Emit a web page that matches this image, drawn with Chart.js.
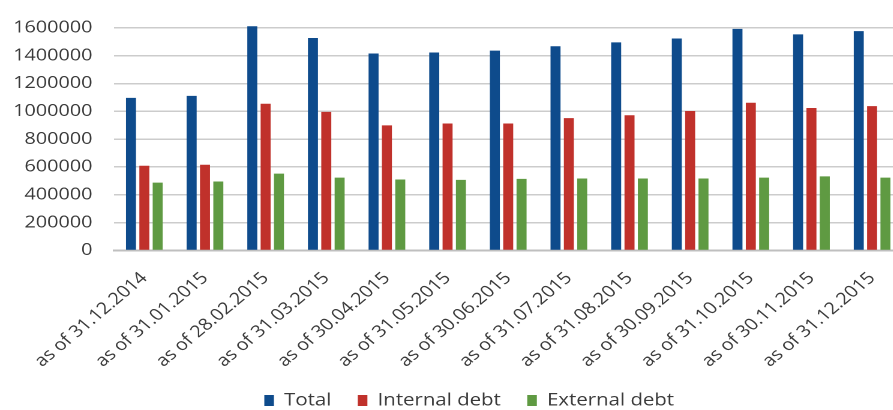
<!DOCTYPE html>
<html>
<head>
<meta charset="utf-8">
<script src="https://cdn.jsdelivr.net/npm/chart.js@4/dist/chart.umd.min.js"></script>
<style>
  html, body { margin: 0; padding: 0; background: #ffffff; overflow: hidden; }
  #wrap { position: absolute; left: 0; top: 0; width: 760px; height: 410px; transform: scaleX(1.2); transform-origin: 0 0; }
</style>
</head>
<body>
<div id="wrap"><canvas id="c"></canvas></div>
<script>
const categories = [
  "as of 31.12.2014", "as of 31.01.2015", "as of 28.02.2015", "as of 31.03.2015",
  "as of 30.04.2015", "as of 31.05.2015", "as of 30.06.2015", "as of 31.07.2015",
  "as of 31.08.2015", "as of 30.09.2015", "as of 31.10.2015", "as of 30.11.2015",
  "as of 31.12.2015"
];
const totalDebt    = [1097000, 1111000, 1612000, 1527000, 1416000, 1423000, 1437000, 1468000, 1496000, 1524000, 1593000, 1553000, 1577000];
const internalDebt = [609000, 616000, 1055000, 996000, 899000, 913000, 913000, 951000, 972000, 1003000, 1062000, 1024000, 1038000];
const externalDebt = [488000, 496000, 552000, 524000, 510000, 507000, 515000, 517000, 517000, 517000, 524000, 533000, 524000];
const seriesNames = ["Total", "Internal debt", "External debt"];
const yTicks = [0, 200000, 400000, 600000, 800000, 1000000, 1200000, 1400000, 1600000];

const FONT = "'Open Sans', sans-serif";
const common = { categoryPercentage: 0.66, barPercentage: 0.75, clip: false, borderWidth: 0 };

const legendShift = {
  id: 'legendShift',
  afterLayout(chart) {
    const lg = chart.legend;
    if (!lg) return;
    lg.left += 30;
    lg.top -= 9; lg.bottom -= 9;
  }
};

new Chart(document.getElementById('c'), {
  type: 'bar',
  data: {
    labels: categories,
    datasets: [
      Object.assign({ label: seriesNames[0], data: totalDebt, backgroundColor: '#0e4b8c' }, common),
      Object.assign({ label: seriesNames[1], data: internalDebt, backgroundColor: '#c0312b' }, common),
      Object.assign({ label: seriesNames[2], data: externalDebt, backgroundColor: '#5f9a42' }, common)
    ]
  },
  plugins: [legendShift],
  options: {
    responsive: true,
    maintainAspectRatio: false,
    animation: false,
    devicePixelRatio: 2,
    layout: { padding: { top: 20, right: 8, left: 0, bottom: -18 } },
    plugins: {
      tooltip: { enabled: false },
      legend: {
        position: 'bottom',
        labels: {
          font: { family: FONT, size: 17 },
          color: '#3a3a3a',
          boxWidth: 8,
          boxHeight: 11,
          padding: 22
        }
      }
    },
    scales: {
      x: {
        afterFit: (s) => { s.height = s.height - 10; },
        grid: { display: false, drawTicks: false },
        border: { display: true, color: '#bfbfbf', width: 2 },
        ticks: {
          font: { family: FONT, size: 16.5 },
          color: '#3a3a3a',
          maxRotation: 45,
          minRotation: 45,
          padding: 18,
          autoSkip: false
        }
      },
      y: {
        min: 0,
        max: 1600000,
        afterFit: (s) => { s.width = 95; },
        afterBuildTicks: (s) => { s.ticks = yTicks.map(v => ({ value: v })); },
        grid: { color: '#cccccc', lineWidth: 1.5, drawTicks: false },
        border: { display: false },
        ticks: {
          font: { family: FONT, size: 16.5 },
          color: '#3a3a3a',
          padding: 18,
          callback: (v) => String(v)
        }
      }
    }
  }
});
</script>
</body>
</html>
